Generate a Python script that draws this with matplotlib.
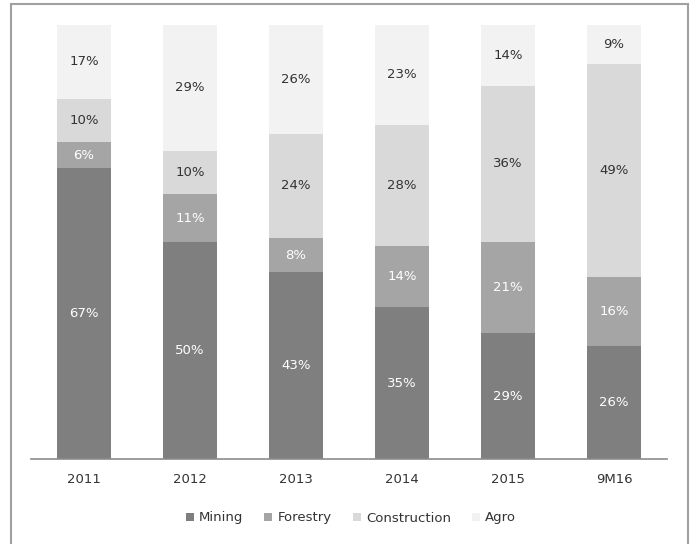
import matplotlib.pyplot as plt
from matplotlib.patches import Rectangle
import numpy as np

periods = ['2011', '2012', '2013', '2014', '2015', '9M16']
mining = [67, 50, 43, 35, 29, 26]
forestry = [6, 11, 8, 14, 21, 16]
construction = [10, 10, 24, 28, 36, 49]
agro = [17, 29, 26, 23, 14, 9]

series = [('Mining', mining, '#7f7f7f', 'white'),
          ('Forestry', forestry, '#a5a5a5', 'white'),
          ('Construction', construction, '#d9d9d9', '#333333'),
          ('Agro', agro, '#f2f2f2', '#333333')]

plt.rcParams['font.family'] = 'DejaVu Sans'

fig = plt.figure(figsize=(6.95, 5.44), dpi=100)
ax = fig.add_axes([31 / 695, 85 / 544, 636 / 695, 434 / 544])

x = np.arange(len(periods))
bottom = np.zeros(len(periods))
for name, vals, color, tcolor in series:
    vals = np.array(vals, dtype=float)
    ax.bar(x, vals, 0.51, bottom=bottom, color=color, label=name, zorder=2)
    for xi, b, v in zip(x, bottom, vals):
        # keep the label inside the visible part of a segment that runs past 100
        y = min(b + v / 2, (b + 100) / 2)
        ax.text(xi, y, f'{int(v)}%', ha='center', va='center',
                fontsize=9.5, color=tcolor, zorder=3)
    bottom += vals

ax.set_xlim(-0.5, len(periods) - 0.5)
ax.set_ylim(0, 100)
ax.set_yticks([])
ax.set_xticks(x)
ax.set_xticklabels(periods, fontsize=9.5, color='#333333')
ax.tick_params(axis='x', length=0, pad=10)
for s in ['top', 'right', 'left']:
    ax.spines[s].set_visible(False)
ax.spines['bottom'].set_color('#8c8c8c')
ax.spines['bottom'].set_linewidth(1.2)

fig.legend(loc='center', bbox_to_anchor=(0.505, 26 / 544), ncol=4, frameon=False,
           fontsize=9.5, handlelength=0.6, handleheight=0.6, handletextpad=0.4,
           columnspacing=1.6, labelcolor='#333333')

fig.patches.append(Rectangle((11 / 695, -2 / 544), 677 / 695, 542 / 544,
                             transform=fig.transFigure, fill=False,
                             edgecolor='#a0a0a0', linewidth=1.5))

plt.savefig('out.png', dpi=100)
